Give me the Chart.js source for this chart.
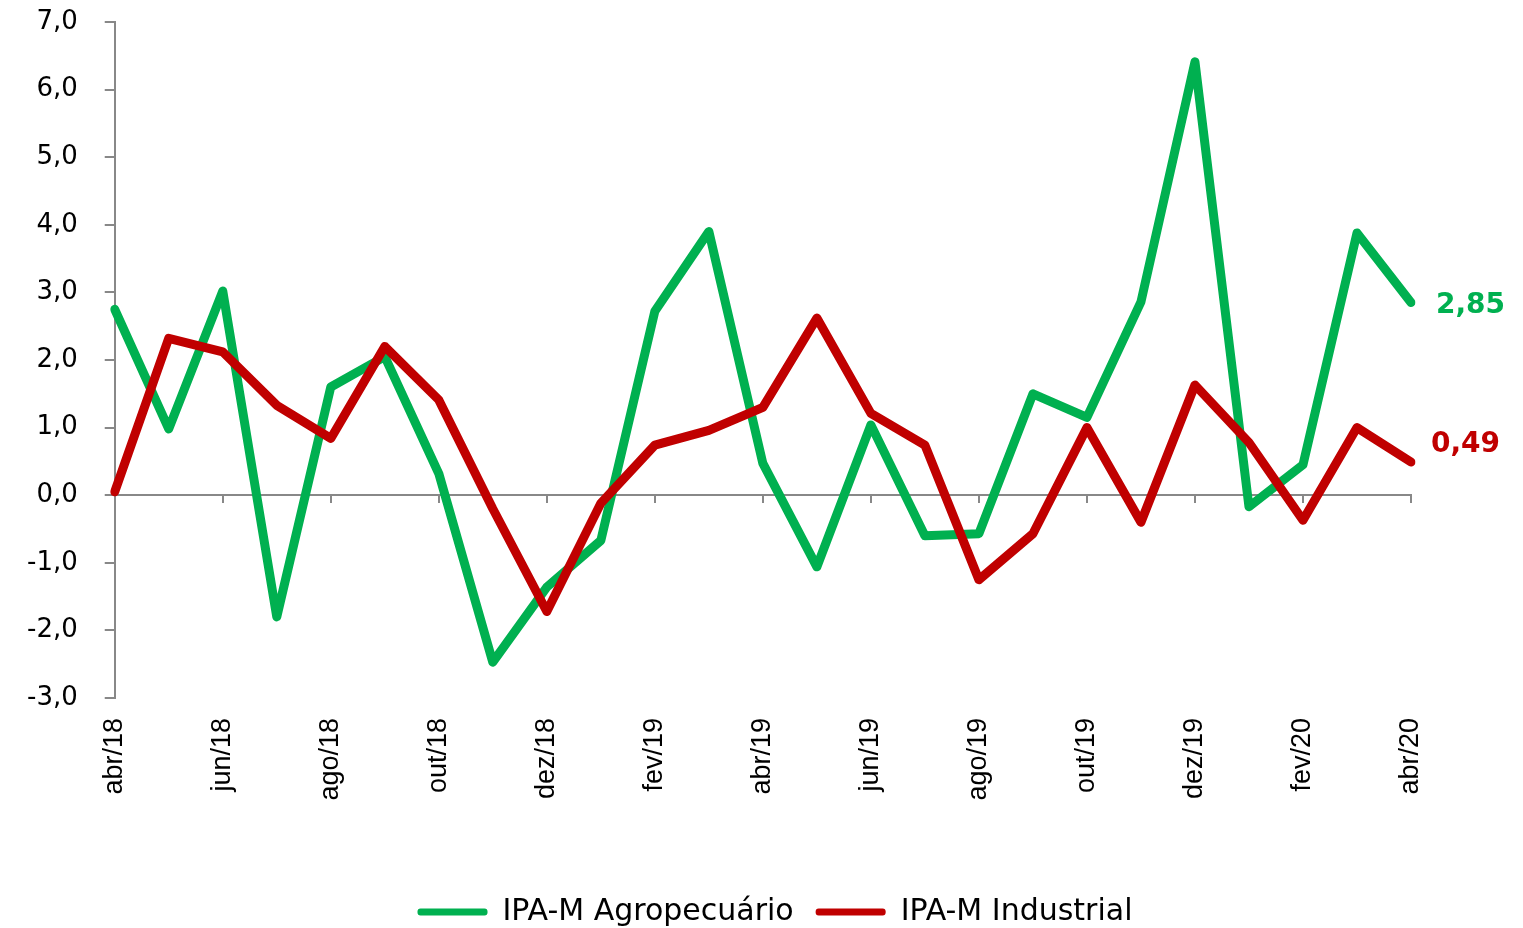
<!DOCTYPE html>
<html>
<head>
<meta charset="utf-8">
<script src="https://cdn.jsdelivr.net/npm/chart.js@4/dist/chart.umd.min.js"></script>
<style>
  html, body { margin: 0; padding: 0; background: #ffffff; }
  #wrap { width: 1523px; height: 928px; position: relative; }
</style>
</head>
<body>
<div id="wrap"><canvas id="c"></canvas></div>
<script>
const months = ['abr/18','mai/18','jun/18','jul/18','ago/18','set/18','out/18','nov/18','dez/18',
  'jan/19','fev/19','mar/19','abr/19','mai/19','jun/19','jul/19','ago/19','set/19','out/19','nov/19','dez/19',
  'jan/20','fev/20','mar/20','abr/20'];
const agro = [2.75, 0.98, 3.02, -1.80, 1.60, 2.05, 0.32, -2.47, -1.36, -0.67, 2.72, 3.90, 0.47,
  -1.06, 1.04, -0.60, -0.57, 1.50, 1.15, 2.86, 6.41, -0.17, 0.45, 3.88, 2.85];
const industrial = [0.05, 2.32, 2.12, 1.33, 0.84, 2.20, 1.41, -0.20, -1.72, -0.12, 0.74, 0.96, 1.30,
  2.62, 1.21, 0.74, -1.25, -0.57, 1.00, -0.40, 1.63, 0.78, -0.37, 1.00, 0.49];
const seriesNames = ['IPA-M Agropecuário', 'IPA-M Industrial'];
const yMin = -3, yMax = 7, yStep = 1;

const GREEN = '#00B050', RED = '#C00000', AXIS = '#888888', NONE = 'rgba(0,0,0,0)';
const fmt = (v, d) => v.toFixed(d).replace('.', ',');

const endLabels = {
  id: 'endLabels',
  afterDatasetsDraw(chart) {
    const ctx = chart.ctx;
    const offs = [{dx: 25, dy: 3}, {dx: 20, dy: -17}];
    ctx.save();
    ctx.font = 'bold 28px "DejaVu Sans"';
    ctx.textAlign = 'left';
    ctx.textBaseline = 'middle';
    chart.data.datasets.forEach((ds, i) => {
      const meta = chart.getDatasetMeta(i);
      const last = meta.data.length - 1;
      const pt = meta.data[last];
      ctx.fillStyle = ds.borderColor;
      ctx.fillText(fmt(ds.data[last], 2), pt.x + offs[i].dx, pt.y + offs[i].dy);
    });
    ctx.restore();
  }
};

new Chart(document.getElementById('c'), {
  type: 'line',
  data: {
    labels: months,
    datasets: [
      { label: seriesNames[0], data: agro, borderColor: GREEN, backgroundColor: GREEN,
        borderWidth: 9, pointRadius: 0, tension: 0, borderJoinStyle: 'round', borderCapStyle: 'round', order: 1 },
      { label: seriesNames[1], data: industrial, borderColor: RED, backgroundColor: RED,
        borderWidth: 9, pointRadius: 0, tension: 0, borderJoinStyle: 'round', borderCapStyle: 'round', order: 0 }
    ]
  },
  options: {
    responsive: true,
    maintainAspectRatio: false,
    animation: false,
    layout: { padding: { top: 22, right: 0, left: 27, bottom: -9 } },
    plugins: {
      tooltip: { enabled: false },
      legend: {
        position: 'bottom',
        labels: {
          font: { family: '"DejaVu Sans"', size: 30 },
          color: '#000',
          boxWidth: 70,
          boxHeight: 7,
          padding: 22,
          useBorderRadius: true,
          borderRadius: 3,
          sort: (a, b) => a.datasetIndex - b.datasetIndex,
          generateLabels: (chart) => Chart.defaults.plugins.legend.labels.generateLabels(chart)
            .map(l => Object.assign(l, { lineWidth: 0, fillStyle: l.strokeStyle }))
        }
      }
    },
    scales: {
      x: {
        type: 'category',
        position: { y: 0 },
        offset: false,
        grid: {
          drawOnChartArea: false, drawTicks: true, tickLength: 7, lineWidth: 2,
          tickColor: (c) => (c.index % 2 === 0 ? AXIS : NONE)
        },
        border: { display: true, color: AXIS, width: 2 },
        ticks: { display: false, autoSkip: false }
      },
      x2: {
        type: 'category',
        position: 'bottom',
        offset: false,
        grid: { display: false, drawTicks: false },
        border: { display: false },
        ticks: {
          autoSkip: false, maxRotation: 90, minRotation: 90, padding: 20,
          color: '#000',
          font: { family: '"Liberation Sans"', size: 27 },
          callback: (v, i) => (i % 2 === 0 ? months[i] : '')
        },
        afterFit: (scale) => { scale.height = 177; }
      },
      yMarks: {
        position: 'left',
        weight: 0,
        min: yMin, max: yMax,
        ticks: { display: false, stepSize: yStep },
        grid: { drawOnChartArea: false, drawTicks: true, tickLength: 10, tickColor: AXIS, lineWidth: 2 },
        border: { display: true, color: AXIS, width: 2 }
      },
      y: {
        position: 'left',
        weight: 1,
        min: yMin, max: yMax,
        ticks: {
          stepSize: yStep, padding: 0, color: '#000',
          font: { family: '"DejaVu Sans"', size: 26 },
          callback: (v) => fmt(v, 1)
        },
        grid: { drawOnChartArea: false, drawTicks: true, tickLength: 27, tickColor: NONE },
        border: { display: false }
      },
      yRight: {
        position: 'right',
        display: true,
        min: yMin, max: yMax,
        grid: { display: false, drawTicks: false },
        border: { display: false },
        ticks: { display: false },
        afterFit: (scale) => { scale.width = 112; }
      }
    }
  },
  plugins: [endLabels]
});
</script>
</body>
</html>
